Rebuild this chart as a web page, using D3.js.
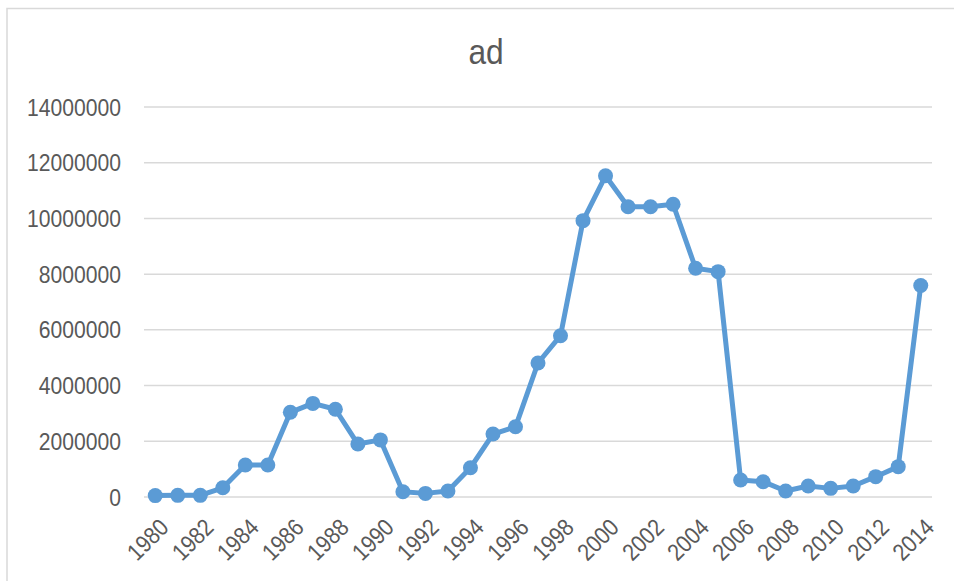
<!DOCTYPE html>
<html>
<meta charset="utf-8">
<style>
 body { margin: 0; background: #fff; }
 text { font-family: "Liberation Sans", sans-serif; fill: #595959; }
 #title_text { font-size: 36px; }
 .tick_text { font-size: 24px; }
</style>
<body>
  <script src="https://d3js.org/d3.v7.min.js" charset="utf-8"></script>
  <script>

var width = 954
var height = 581

// chart data
var years = d3.range(1980, 2015)
var values = [50000, 60000, 60000, 330000, 1150000, 1150000, 3040000, 3360000, 3150000, 1900000,
  2050000, 190000, 130000, 215000, 1050000, 2260000, 2520000, 4810000, 5790000, 9920000,
  11530000, 10420000, 10420000, 10510000, 8210000, 8090000, 610000, 550000, 215000, 395000,
  310000, 395000, 730000, 1090000, 7590000]
var yTicks = [0, 2000000, 4000000, 6000000, 8000000, 10000000, 12000000, 14000000]
var xTickLabels = years.filter(function (d) { return d % 2 === 0; })

// squeeze text horizontally, the source font is a narrow one
var squeeze = " scale(0.88,1)"

var svg = d3.select("body")
      .append("svg")
      .attr("width", width)
      .attr("height", height);

// chart frame
svg.append("rect")
  .attr("x", 7)
  .attr("y", 8.5)
  .attr("width", width + 10)
  .attr("height", height + 10)
  .attr("fill", "none")
  .attr("stroke", "#d9d9d9")
  .attr("stroke-width", 1.5);

var x = d3.scaleBand().domain(years).range([144, 932]);
var y = d3.scaleLinear().domain([0, 14000000]).range([497, 107]);

// gridlines
svg.selectAll(".grid")
  .data(yTicks)
  .enter()
  .append("line")
    .attr("x1", 144)
    .attr("x2", 932)
    .attr("y1", function (d) { return y(d); })
    .attr("y2", function (d) { return y(d); })
    .attr("stroke", "#d9d9d9")
    .attr("stroke-width", 1.5);

// y labels
svg.selectAll(".ylab")
  .data(yTicks)
  .enter()
  .append("text")
    .attr("class", "tick_text")
    .attr("text-anchor", "end")
    .attr("transform", function (d) { return "translate(121," + y(d) + ")" + squeeze; })
    .attr("dy", "0.36em")
    .text(function (d) { return d; });

// x labels
svg.selectAll(".xlab")
  .data(xTickLabels)
  .enter()
  .append("text")
    .attr("class", "tick_text")
    .attr("text-anchor", "end")
    .attr("transform", function (d) {
      return "translate(" + (x(d) + x.bandwidth() / 2 + 3) + ",517) rotate(-45)" + squeeze;
    })
    .attr("dy", "0.7em")
    .text(function (d) { return d; });

var line = d3.line()
  .x(function (d, i) { return x(years[i]) + x.bandwidth() / 2; })
  .y(function (d) { return y(d); });

svg.append("path")
  .datum(values)
  .attr("d", line)
  .attr("fill", "none")
  .attr("stroke", "#5b9bd5")
  .attr("stroke-width", 5)
  .attr("stroke-linejoin", "round");

svg.selectAll(".dot")
  .data(values)
  .enter()
  .append("circle")
    .attr("cx", function (d, i) { return x(years[i]) + x.bandwidth() / 2; })
    .attr("cy", function (d) { return y(d); })
    .attr("r", 7.5)
    .attr("fill", "#5b9bd5");

// title
svg.append("text")
  .attr("id", "title_text")
  .attr("text-anchor", "middle")
  .attr("transform", "translate(486,64)" + squeeze)
  .text("ad");

  </script>
</body>
</html>
